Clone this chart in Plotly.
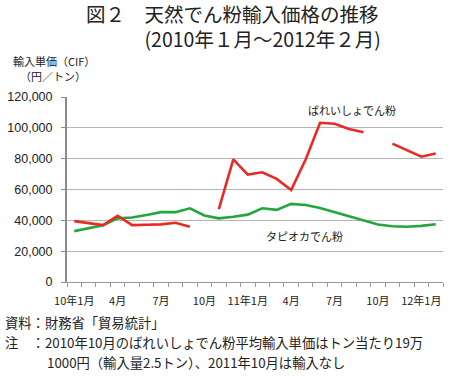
import plotly.graph_objects as go

months = ["10年1月","2月","3月","4月","5月","6月","7月","8月","9月","10月","11月","12月",
          "11年1月","2月","3月","4月","5月","6月","7月","8月","9月","10月","11月","12月",
          "12年1月","2月"]
potato = [39500, 38400, 36900, 43000, 36900, 37100, 37400, 38400, 35800, None, 47300, 79500,
          69700, 71200, 66900, 59700, 79500, 103300, 102600, 99300, 97200, None, 89800, 85700,
          81300, 83400]
tapioca = [33000, 34900, 36800, 41300, 41800, 43400, 45300, 45300, 47800, 43200, 41300, 42300,
           43700, 47800, 46800, 50700, 50000, 48000, 45400, 42500, 39800, 37300, 36200, 35800,
           36400, 37500]
tick_idx = [0, 3, 6, 9, 12, 15, 18, 21, 24]
tick_text = ["10年1月", "4月", "7月", "10月", "11年1月", "4月", "7月", "10月", "12年1月"]
y_ticks = [0, 20000, 40000, 60000, 80000, 100000, 120000]

JP = "Noto Sans CJK JP, sans-serif"
NUM = "Liberation Sans, Noto Sans CJK JP, sans-serif"

W, H = 455, 377
l, r, t, b = 67, 12, 97, 95
pw, ph = W - l - r, H - t - b

x = list(range(len(months)))
fig = go.Figure()
fig.add_trace(go.Scatter(x=x, y=tapioca, mode="lines", line=dict(color="#23a63e", width=2.6),
                         connectgaps=False, hoverinfo="skip"))
fig.add_trace(go.Scatter(x=x, y=potato, mode="lines", line=dict(color="#ea2a22", width=2.6),
                         connectgaps=False, hoverinfo="skip"))

fig.update_layout(
    width=W, height=H, margin=dict(l=l, r=r, t=t, b=b, autoexpand=False),
    paper_bgcolor="white", plot_bgcolor="white", showlegend=False,
    font=dict(family=JP, color="#222"),
    xaxis=dict(range=[-0.5, len(months) - 0.5], tickmode="array", tickvals=tick_idx,
               ticktext=tick_text, ticks="outside", ticklen=9, tickcolor="rgba(0,0,0,0)",
               showgrid=False, zeroline=False,
               showline=True, linecolor="#9a9a9a", linewidth=1,
               tickfont=dict(size=11, family=JP, color="#222"),
               minor=dict(tickmode="linear", tick0=-0.5, dtick=1, ticks="outside",
                          ticklen=4, tickcolor="#9a9a9a", tickwidth=1, showgrid=False)),
    yaxis=dict(range=[0, 120000], tickmode="array", tickvals=y_ticks,
               ticktext=[f"{v:,}" for v in y_ticks], showgrid=True, gridcolor="#b4b4b4",
               gridwidth=1, zeroline=False, showline=True, linecolor="#8c8c8c", linewidth=2,
               ticks="outside", ticklen=4, tickcolor="#8c8c8c", ticklabelstandoff=6,
               tickfont=dict(size=12.5, family=NUM, color="#222")),
)

ann = [
    dict(text="図２　天然でん粉輸入価格の推移<br>　　　(2010年１月～2012年２月)", x=84, y=26.5, size=19.5),
    dict(text="輸入単価（CIF）", x=11, y=61, size=11),
    dict(text="（円／トン）", x=18, y=76, size=11),
    dict(text="ばれいしょでん粉", x=306, y=110, size=11),
    dict(text="タピオカでん粉", x=264, y=236, size=11),
    dict(text="資料：財務省「貿易統計」", x=3, y=322, size=13.3),
    dict(text="注　：2010年10月のばれいしょでん粉平均輸入単価はトン当たり19万", x=3, y=342, size=13.3),
    dict(text="1000円（輸入量2.5トン）、2011年10月は輸入なし", x=45, y=362, size=13.3),
]
for a in ann:
    fig.add_annotation(text=a["text"], x=(a["x"] - l) / pw, y=(H - b - a["y"]) / ph,
                       xref="paper", yref="paper", xanchor="left", yanchor="middle",
                       align="left", showarrow=False,
                       font=dict(size=a["size"], family=JP, color="#222"))

fig.write_html("out.html", config={"displayModeBar": False, "staticPlot": True},
               post_script="document.body.style.margin='0';document.body.style.padding='0';")
